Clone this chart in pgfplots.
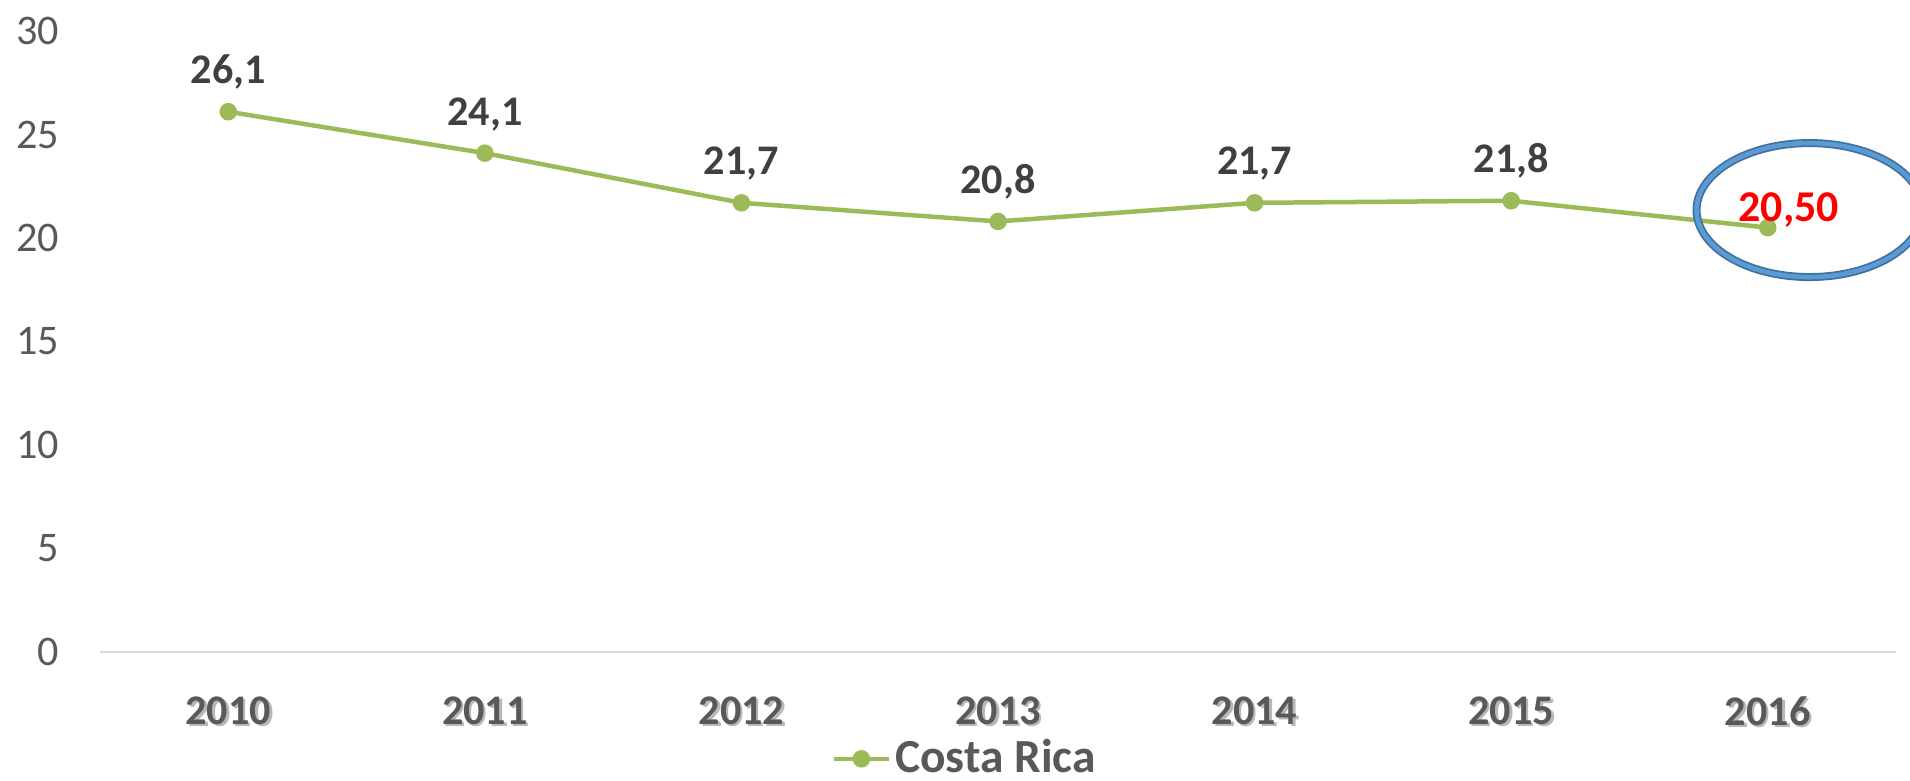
\documentclass[border=0pt]{standalone}
\usepackage{pgfplots}
\pgfplotsset{compat=1.18}
\usepackage{fontspec}
\setmainfont{Carlito}

\definecolor{crgreen}{HTML}{9BBB59}
\definecolor{tickgray}{HTML}{595959}
\definecolor{labgray}{HTML}{404040}
\definecolor{basegray}{HTML}{D9D9D9}
\definecolor{ringdark}{HTML}{41719C}
\definecolor{ringlight}{HTML}{5B9BD5}

% year label with a soft drop shadow
\newcommand{\sh}[1]{\makebox[0pt][l]{\hspace{0.25mm}\raisebox{-0.25mm}{\textcolor{black!28}{#1}}}\textcolor{tickgray}{#1}}

\begin{document}
\begin{tikzpicture}
\begin{axis}[
    scale only axis,
    width=179.6mm, height=62.1mm,
    xmin=-0.5, xmax=6.5,
    ymin=0, ymax=30,
    xtick={0,...,6},
    xticklabels={\sh{2010},\sh{2011},\sh{2012},\sh{2013},\sh{2014},\sh{2015},\sh{2016}},
    ytick={0,5,...,30},
    tick style={draw=none},
    axis line style={draw=none},
    clip=false,
    /pgf/number format/assume math mode=true,
    yticklabel style={anchor=east, inner sep=0pt, xshift=-4mm,
        font=\fontsize{12}{14}\selectfont, text=tickgray},
    xticklabel style={anchor=north, inner sep=0pt, yshift=-4.4mm,
        font=\fontsize{12}{14}\selectfont\bfseries},
    legend style={at={(0.482,-0.172)}, anchor=center, draw=none, fill=none,
        font=\fontsize{13.5}{15}\selectfont\bfseries, text=tickgray,
        nodes={inner sep=0.4mm}},
    legend image code/.code={
        \draw[mark repeat=2, mark phase=2, #1]
        plot coordinates {(0cm,0cm) (0.275cm,0cm) (0.55cm,0cm)};},
]
\draw[basegray, line width=0.15mm] (rel axis cs:0,0) -- (rel axis cs:1,0);

\addplot[
    color=crgreen, line width=0.45mm,
    mark=*, mark size=0.65mm, mark options={fill=crgreen, draw=crgreen},
    nodes near coords, point meta=explicit symbolic,
    every node near coord/.append style={anchor=base, inner sep=0pt, yshift=2.8mm,
        font=\fontsize{12}{14}\selectfont\bfseries, text=labgray},
    ]
    coordinates {
    (0,26.1) [26,1]
    (1,24.1) [24,1]
    (2,21.7) [21,7]
    (3,20.8) [20,8]
    (4,21.7) [21,7]
    (5,21.8) [21,8]
    (6,20.5) []
    };
\addlegendentry{Costa Rica}

% highlighted last value
\addplot[
    draw=none, forget plot,
    nodes near coords, point meta=explicit symbolic,
    every node near coord/.append style={anchor=center, inner sep=0pt,
        xshift=2.1mm, yshift=1.8mm,
        font=\fontsize{12.5}{14}\selectfont\bfseries, text=red},
    ]
    coordinates {(6,20.5) [20,50]};

\draw[ringdark, line width=0.8mm] (axis cs:6.163,21.35) ellipse [x radius=11.3mm, y radius=6.7mm];
\draw[ringlight, line width=0.45mm] (axis cs:6.163,21.35) ellipse [x radius=11.3mm, y radius=6.7mm];
\end{axis}
\pgfresetboundingbox
\useasboundingbox ([xshift=-10mm,yshift=-12.8mm]current axis.south west)
    rectangle ([xshift=1.4mm,yshift=3.1mm]current axis.north east);
\end{tikzpicture}
\end{document}
